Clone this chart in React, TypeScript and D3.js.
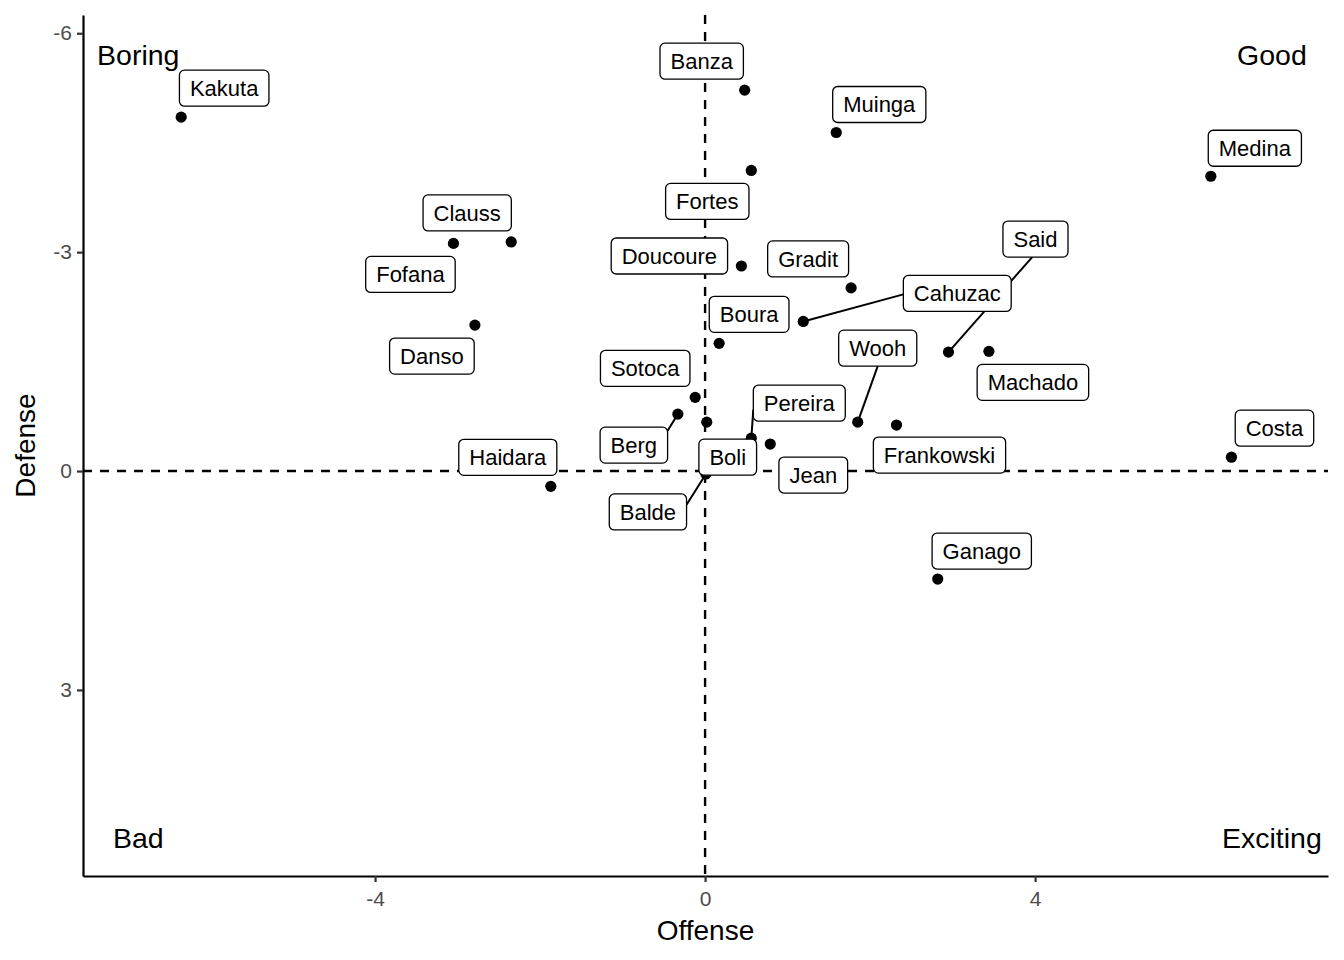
import { useEffect, useRef } from 'react';
import * as d3 from 'd3';

// player ratings (offense, defense)
const players = [
  'Kakuta', 'Banza', 'Muinga', 'Fortes', 'Medina', 'Fofana', 'Clauss', 'Doucoure',
  'Gradit', 'Cahuzac', 'Boura', 'Said', 'Machado', 'Danso', 'Sotoca', 'Berg',
  'Boli', 'Pereira', 'Jean', 'Wooh', 'Frankowski', 'Costa', 'Haidara', 'Balde', 'Ganago',
];
const offense = [
  -6.35, 0.48, 1.59, 0.56, 6.13, -3.05, -2.35, 0.44,
  1.77, 1.19, 0.17, 2.95, 3.44, -2.79, -0.12, -0.33,
  0.02, 0.56, 0.79, 1.85, 2.32, 6.38, -1.87, 0.01, 2.82,
];
const defense = [
  -4.85, -5.22, -4.64, -4.12, -4.04, -3.12, -3.14, -2.81,
  -2.51, -2.05, -1.75, -1.63, -1.64, -2.0, -1.01, -0.78,
  -0.67, -0.45, -0.37, -0.67, -0.63, -0.19, 0.21, 0.04, 1.48,
];

const xTicks = [-4, 0, 4];
const yTicks = [-6, -3, 0, 3];

const quadrants = [
  { text: 'Boring', x: -6.87, y: -5.7 },
  { text: 'Good', x: 6.87, y: -5.7 },
  { text: 'Bad', x: -6.87, y: 5.03 },
  { text: 'Exciting', x: 6.87, y: 5.03 },
];

// repelled label offsets (px from the point), as placed in the original
const labelOffsets: Record<string, [number, number]> = {
  Kakuta: [43, -29], Banza: [-43, -29], Muinga: [43, -28], Fortes: [-44, 31],
  Medina: [44, -28], Fofana: [-43, 31], Clauss: [-44, -29], Doucoure: [-72, -10],
  Gradit: [-43, -29], Cahuzac: [154, -28], Boura: [30, -29], Said: [87, -113],
  Machado: [44, 31], Danso: [-43, 31], Sotoca: [-50, -29], Berg: [-44, 31],
  Boli: [21, 35], Pereira: [48, -35], Jean: [43, 31], Wooh: [20, -74],
  Frankowski: [43, 30], Costa: [43, -29], Haidara: [-43, -29], Balde: [-58, 38],
  Ganago: [44, -28],
};
// where each leader line meets its label box (fraction of half width / half height)
const segmentAnchors: Record<string, [number, number]> = {
  Cahuzac: [-1, 0.05], Said: [-0.1, 1], Wooh: [0, 1],
  Pereira: [-1, 0.35], Berg: [1, -0.8], Balde: [1, -0.4],
};

const FONT = '"Liberation Sans", Arial, Helvetica, sans-serif';

export default function App() {
  const ref = useRef<SVGSVGElement>(null);

  useEffect(() => {
    if (!ref.current) return;
    const svg = d3.select(ref.current);
    svg.selectAll('*').remove();

    const W = 1344;
    const H = 960;
    const left = 83, right = 1328, top = 15, bottom = 876;

    const x = d3.scaleLinear().domain([-7.54, 7.55]).range([left, right]);
    const y = d3.scaleLinear().domain([-6.25, 5.55]).range([top, bottom]);

    svg.attr('width', W).attr('height', H).style('font-family', FONT);
    svg.append('rect').attr('width', W).attr('height', H).attr('fill', '#fff');

    // reference lines
    svg.append('line')
      .attr('x1', x(0)).attr('x2', x(0))
      .attr('y1', top).attr('y2', bottom)
      .attr('stroke', '#000').attr('stroke-width', 2.4).attr('stroke-dasharray', '9,8');
    svg.append('line')
      .attr('x1', left).attr('x2', right)
      .attr('y1', y(0)).attr('y2', y(0))
      .attr('stroke', '#000').attr('stroke-width', 2.4).attr('stroke-dasharray', '9,8');

    // axes
    const xAxis = svg.append('g').attr('transform', `translate(0,${bottom})`)
      .call(d3.axisBottom(x).tickValues(xTicks).tickSize(6).tickSizeOuter(0).tickPadding(5).tickFormat(d3.format('d')));
    const yAxis = svg.append('g').attr('transform', `translate(${left},0)`)
      .call(d3.axisLeft(y).tickValues(yTicks).tickSize(6).tickSizeOuter(0).tickPadding(5).tickFormat(d3.format('d')));
    [xAxis, yAxis].forEach(a => {
      a.attr('font-size', null).attr('font-family', null);
      a.select('.domain').attr('stroke', '#000').attr('stroke-width', 2.2);
      a.selectAll('.tick line').attr('stroke', '#333').attr('stroke-width', 2.2);
      a.selectAll('.tick text')
        .attr('fill', '#4d4d4d')
        .style('font-size', '21px')
        .style('font-family', FONT)
        .text(d => String(d).replace('\u2212', '-'));
    });
    xAxis.selectAll('.tick text').attr('dy', '0.9em');

    // axis titles
    svg.append('text')
      .attr('x', (left + right) / 2).attr('y', 940)
      .attr('text-anchor', 'middle')
      .style('font-size', '28px')
      .text('Offense');
    svg.append('text')
      .attr('transform', `translate(35,${(top + bottom) / 2}) rotate(-90)`)
      .attr('text-anchor', 'middle')
      .style('font-size', '28px')
      .text('Defense');

    // quadrant labels
    svg.selectAll('.quad')
      .data(quadrants)
      .join('text')
      .attr('class', 'quad')
      .attr('x', d => x(d.x))
      .attr('y', d => y(d.y))
      .attr('dy', '0.35em')
      .attr('text-anchor', 'middle')
      .style('font-size', '28.5px')
      .text(d => d.text);

    const data = players.map((name, i) => ({
      name,
      px: x(offense[i]),
      py: y(defense[i]),
      cx: x(offense[i]) + labelOffsets[name][0],
      cy: y(defense[i]) + labelOffsets[name][1],
      hw: 0,
      hh: 0,
    }));

    const segG = svg.append('g');
    const pointG = svg.append('g');
    const labelG = svg.append('g');

    pointG.selectAll('circle')
      .data(data)
      .join('circle')
      .attr('cx', d => d.px)
      .attr('cy', d => d.py)
      .attr('r', 5.6)
      .attr('fill', '#000');

    const boxH = 36;
    const pad = 10.5;
    const labels = labelG.selectAll('g.lab')
      .data(data)
      .join('g')
      .attr('class', 'lab');

    const texts = labels.append('text')
      .attr('x', d => d.cx)
      .attr('y', d => d.cy)
      .attr('dy', '0.36em')
      .attr('text-anchor', 'middle')
      .style('font-size', '22px')
      .text(d => d.name);

    texts.each(function (d) {
      const w = (this as SVGTextElement).getComputedTextLength() + pad * 2;
      d.hw = w / 2;
      d.hh = boxH / 2;
    });

    labels.insert('rect', 'text')
      .attr('x', d => d.cx - d.hw)
      .attr('y', d => d.cy - d.hh)
      .attr('width', d => d.hw * 2)
      .attr('height', boxH)
      .attr('rx', 5)
      .attr('fill', '#fff')
      .attr('stroke', '#000')
      .attr('stroke-width', 1.3);

    // leader lines, drawn under points and labels
    segG.selectAll('line')
      .data(data.filter(d => segmentAnchors[d.name]))
      .join('line')
      .attr('x1', d => d.px)
      .attr('y1', d => d.py)
      .attr('x2', d => d.cx + segmentAnchors[d.name][0] * d.hw)
      .attr('y2', d => d.cy + segmentAnchors[d.name][1] * d.hh)
      .attr('stroke', '#000')
      .attr('stroke-width', 2);
  }, []);

  return (
    <svg ref={ref} style={{ position: 'absolute', left: 0, top: 0, display: 'block' }} />
  );
}
